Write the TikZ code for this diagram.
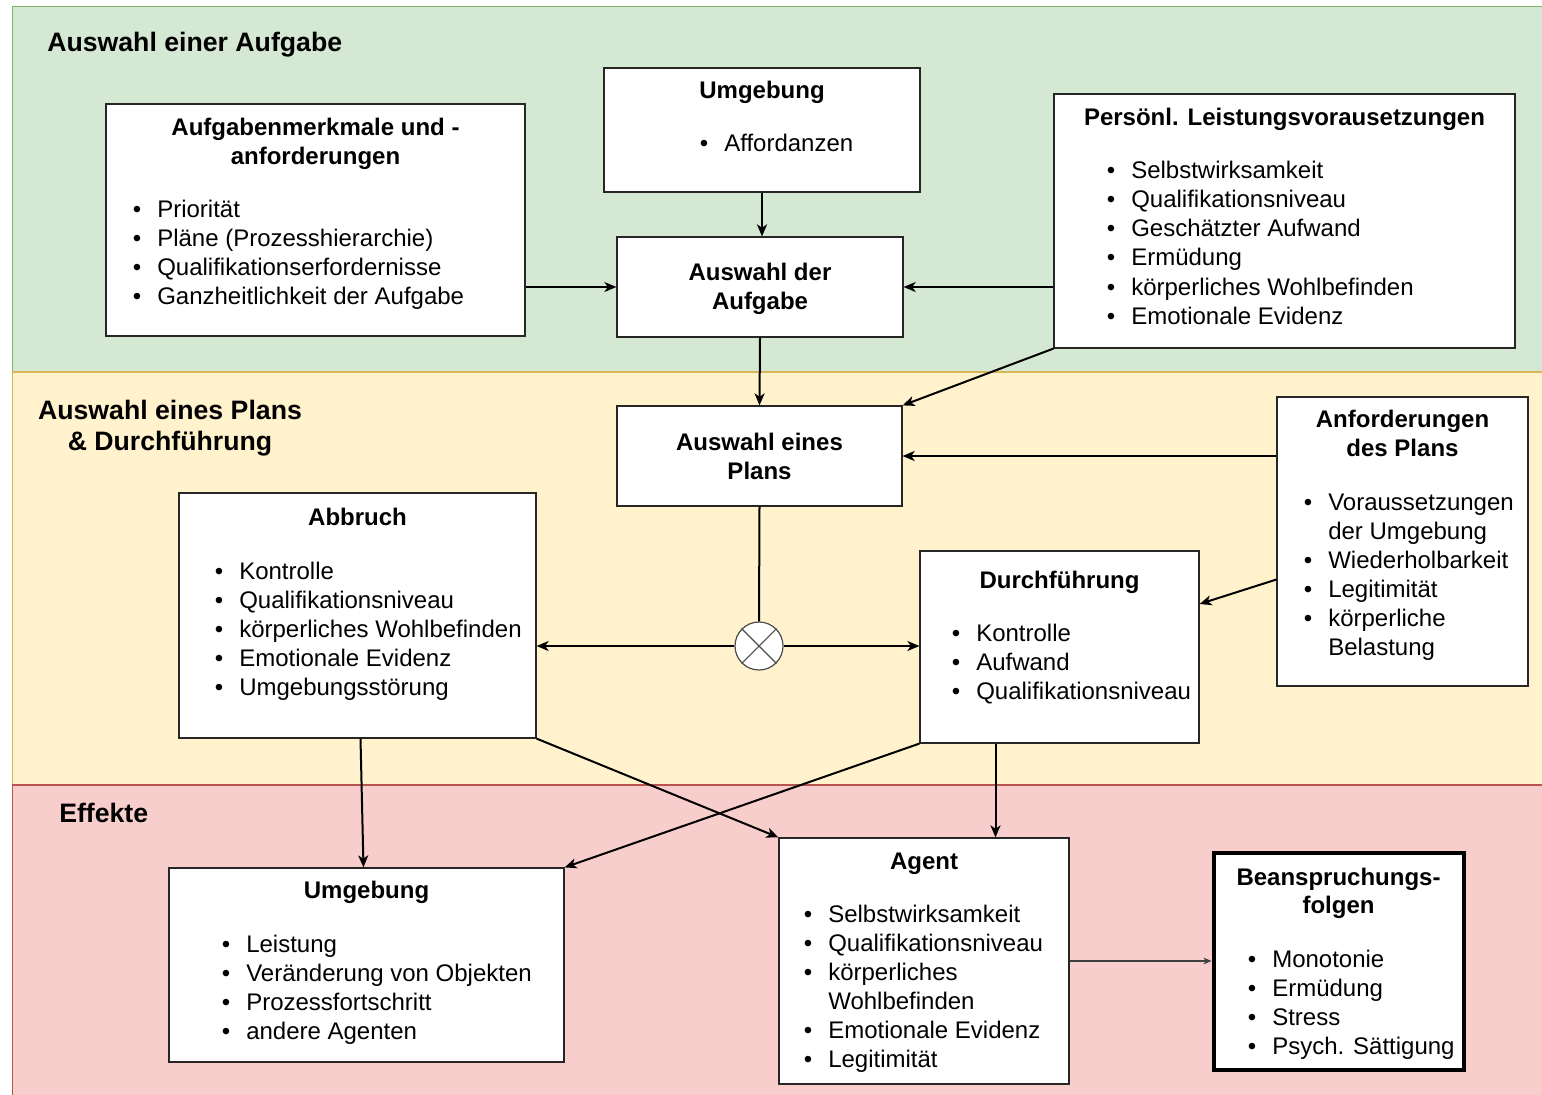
\documentclass[tikz,border=0pt]{standalone}
\usepackage{fontspec}
\setmainfont{Liberation Sans}
\usetikzlibrary{arrows.meta,fit}

\definecolor{greenfill}{HTML}{D5E8D4}
\definecolor{greenline}{HTML}{82B366}
\definecolor{yellowfill}{HTML}{FFF2CC}
\definecolor{yellowline}{HTML}{D6B656}
\definecolor{redfill}{HTML}{F8CECC}
\definecolor{redline}{HTML}{B85450}

\newcounter{tl}
% bullet line: bullet x, mid-line y, text
\newcommand\bulletline[3]{%
  \stepcounter{tl}%
  \node[bodytxt,anchor=base] (bu\arabic{tl}) at (#1,#2+8.5) {\textbullet};
  \node[bodytxt,anchor=base west] (bt\arabic{tl}) at (#1+20,#2+8.5) {#3};}
% continuation line without bullet
\newcommand\contline[3]{%
  \stepcounter{tl}%
  \node[bodytxt,anchor=base west] (bt\arabic{tl}) at (#1+20,#2+8.5) {#3};}
% bold centred title line
\newcommand\titleline[3]{%
  \stepcounter{tl}%
  \node[titletxt,anchor=base] (tt\arabic{tl}) at (#1,#2+8.5) {#3};}

\begin{document}
\begin{tikzpicture}[x=0.75pt,y=-0.75pt,
  font=\fontsize{18}{21.6}\selectfont,
  bodytxt/.style={inner sep=0pt,text=black},
  titletxt/.style={inner sep=0pt,text=black,font=\fontsize{18}{21.6}\selectfont\bfseries},
  bandtxt/.style={inner sep=0pt,text=black,font=\fontsize{20}{24}\selectfont\bfseries},
  box/.style={draw=black!85,line width=0.9pt,fill=white,inner sep=0pt},
  thickbox/.style={draw=black,line width=3pt,fill=white,inner sep=0pt},
  arr/.style={-{Stealth[length=9pt,width=7.5pt,inset=2.5pt]},line width=1.5pt,black},
  thinarr/.style={-{Stealth[length=6pt,width=5pt,inset=1.6pt]},line width=0.8pt,black!75},
  xorstyle/.style={circle,draw=black!70,fill=white,line width=0.9pt,minimum size=36pt,inner sep=0pt}]

\useasboundingbox (0,0) rectangle (1542,1095);
\fill[white] (0,0) rectangle (1542,1095);

% three horizontal bands
\draw[fill=greenfill,draw=greenline,line width=0.8pt] (12.5,6.5) rectangle (1560,372);
\draw[fill=yellowfill,draw=yellowline,line width=0.8pt] (12.5,372) rectangle (1560,785);
\draw[fill=redfill,draw=redline,line width=0.8pt] (12.5,785) rectangle (1560,1110);

\node[bandtxt,anchor=base west] (band1) at (47,52) {Auswahl einer Aufgabe};
\node[bandtxt,anchor=base] (band2a) at (170,419) {Auswahl eines Plans};
\node[bandtxt,anchor=base] (band2b) at (170,450) {\& Durchführung};
\node[bandtxt,anchor=base west] (band3) at (59,822) {Effekte};

% boxes
\node[box,fit={(106,104) (525,336)}] (aufg) {};
\node[box,fit={(604,68) (920,192)}] (umg1) {};
\node[box,fit={(1054,94) (1515,348)}] (pers) {};
\node[box,fit={(617,237) (903,337)}] (wahl) {};
\node[box,fit={(617,406) (902,506)}] (plan) {};
\node[box,fit={(1277,397) (1528,686)}] (anf) {};
\node[box,fit={(179,493) (536,738)}] (abbr) {};
\node[box,fit={(920,551) (1199,743)}] (durch) {};
\node[box,fit={(169,868) (564,1062)}] (umg2) {};
\node[box,fit={(779,838) (1069,1084)}] (agent) {};
\node[thickbox,fit={(1213.5,852.5) (1463.5,1069.5)}] (beans) {};
\node[xorstyle] (xor) at (759,646) {};
\draw[black!70,line width=0.8pt] (xor.north west) -- (xor.south east)
  (xor.north east) -- (xor.south west);

% box texts
\titleline{315.5}{127}{Aufgabenmerkmale und -}
\titleline{315.5}{156}{anforderungen}
\bulletline{137}{209}{Priorität}
\bulletline{137}{238}{Pläne (Prozesshierarchie)}
\bulletline{137}{267}{Qualifikationserfordernisse}
\bulletline{137}{296}{Ganzheitlichkeit der Aufgabe}

\titleline{762}{90}{Umgebung}
\bulletline{704}{143}{Affordanzen}

\titleline{1284.5}{117}{Persönl. Leistungsvorausetzungen}
\bulletline{1111}{170}{Selbstwirksamkeit}
\bulletline{1111}{199}{Qualifikationsniveau}
\bulletline{1111}{228}{Geschätzter Aufwand}
\bulletline{1111}{257}{Ermüdung}
\bulletline{1111}{287}{körperliches Wohlbefinden}
\bulletline{1111}{316}{Emotionale Evidenz}

\titleline{760}{272}{Auswahl der}
\titleline{760}{301}{Aufgabe}

\titleline{759.5}{442}{Auswahl eines}
\titleline{759.5}{471}{Plans}

\titleline{1402.5}{419}{Anforderungen}
\titleline{1402.5}{448}{des Plans}
\bulletline{1308}{502}{Voraussetzungen}
\contline{1308}{531}{der Umgebung}
\bulletline{1308}{560}{Wiederholbarkeit}
\bulletline{1308}{589}{Legitimität}
\bulletline{1308}{618}{körperliche}
\contline{1308}{647}{Belastung}

\titleline{357.5}{517}{Abbruch}
\bulletline{219}{571}{Kontrolle}
\bulletline{219}{600}{Qualifikationsniveau}
\bulletline{219}{629}{körperliches Wohlbefinden}
\bulletline{219}{658}{Emotionale Evidenz}
\bulletline{219}{687}{Umgebungsstörung}

\titleline{1059.5}{580}{Durchführung}
\bulletline{956}{633}{Kontrolle}
\bulletline{956}{662}{Aufwand}
\bulletline{956}{691}{Qualifikationsniveau}

\titleline{366.5}{890}{Umgebung}
\bulletline{226}{944}{Leistung}
\bulletline{226}{973}{Veränderung von Objekten}
\bulletline{226}{1002}{Prozessfortschritt}
\bulletline{226}{1031}{andere Agenten}

\titleline{924}{861}{Agent}
\bulletline{808}{914}{Selbstwirksamkeit}
\bulletline{808}{943}{Qualifikationsniveau}
\bulletline{808}{972}{körperliches}
\contline{808}{1001}{Wohlbefinden}
\bulletline{808}{1030}{Emotionale Evidenz}
\bulletline{808}{1059}{Legitimität}

\titleline{1338.5}{877}{Beanspruchungs-}
\titleline{1338.5}{905}{folgen}
\bulletline{1252}{959}{Monotonie}
\bulletline{1252}{988}{Ermüdung}
\bulletline{1252}{1017}{Stress}
\bulletline{1252}{1046}{Psych. Sättigung}

% connector end points off the node centres
\path (anf.west) ++(0,38) coordinate (anfout);
\path (durch.east) ++(0,-43) coordinate (durchin);
\path (durch.south) ++(-64,0) coordinate (durchout);
\path (abbr.south) ++(3,0) coordinate (abbrout);
\path (umg2.north) ++(-3,0) coordinate (umg2in);

% connectors
\draw[arr] (umg1.south) -- (umg1.south |- wahl.north);
\draw[arr] (aufg.east |- wahl.west) -- (wahl.west);
\draw[arr] (pers.west |- wahl.east) -- (wahl.east);
\draw[arr] (wahl.south) -- (plan.north);
\draw[arr] (pers.south west) -- (plan.north east);
\draw[arr] (anf.west |- plan.east) -- (plan.east);
\draw[arr] (anfout) -- (durchin);
\draw[line width=1.5pt] (plan.south) -- (xor.north);
\draw[arr] (xor.west) -- (abbr.east |- xor.west);
\draw[arr] (xor.east) -- (durch.west |- xor.east);
\draw[arr] (abbrout) -- (umg2in);
\draw[arr] (abbr.south east) -- (agent.north west);
\draw[arr] (durch.south west) -- (umg2.north east);
\draw[arr] (durchout) -- (durchout |- agent.north);
\draw[thinarr] (agent.east) -- (beans.west);

\end{tikzpicture}
\end{document}
